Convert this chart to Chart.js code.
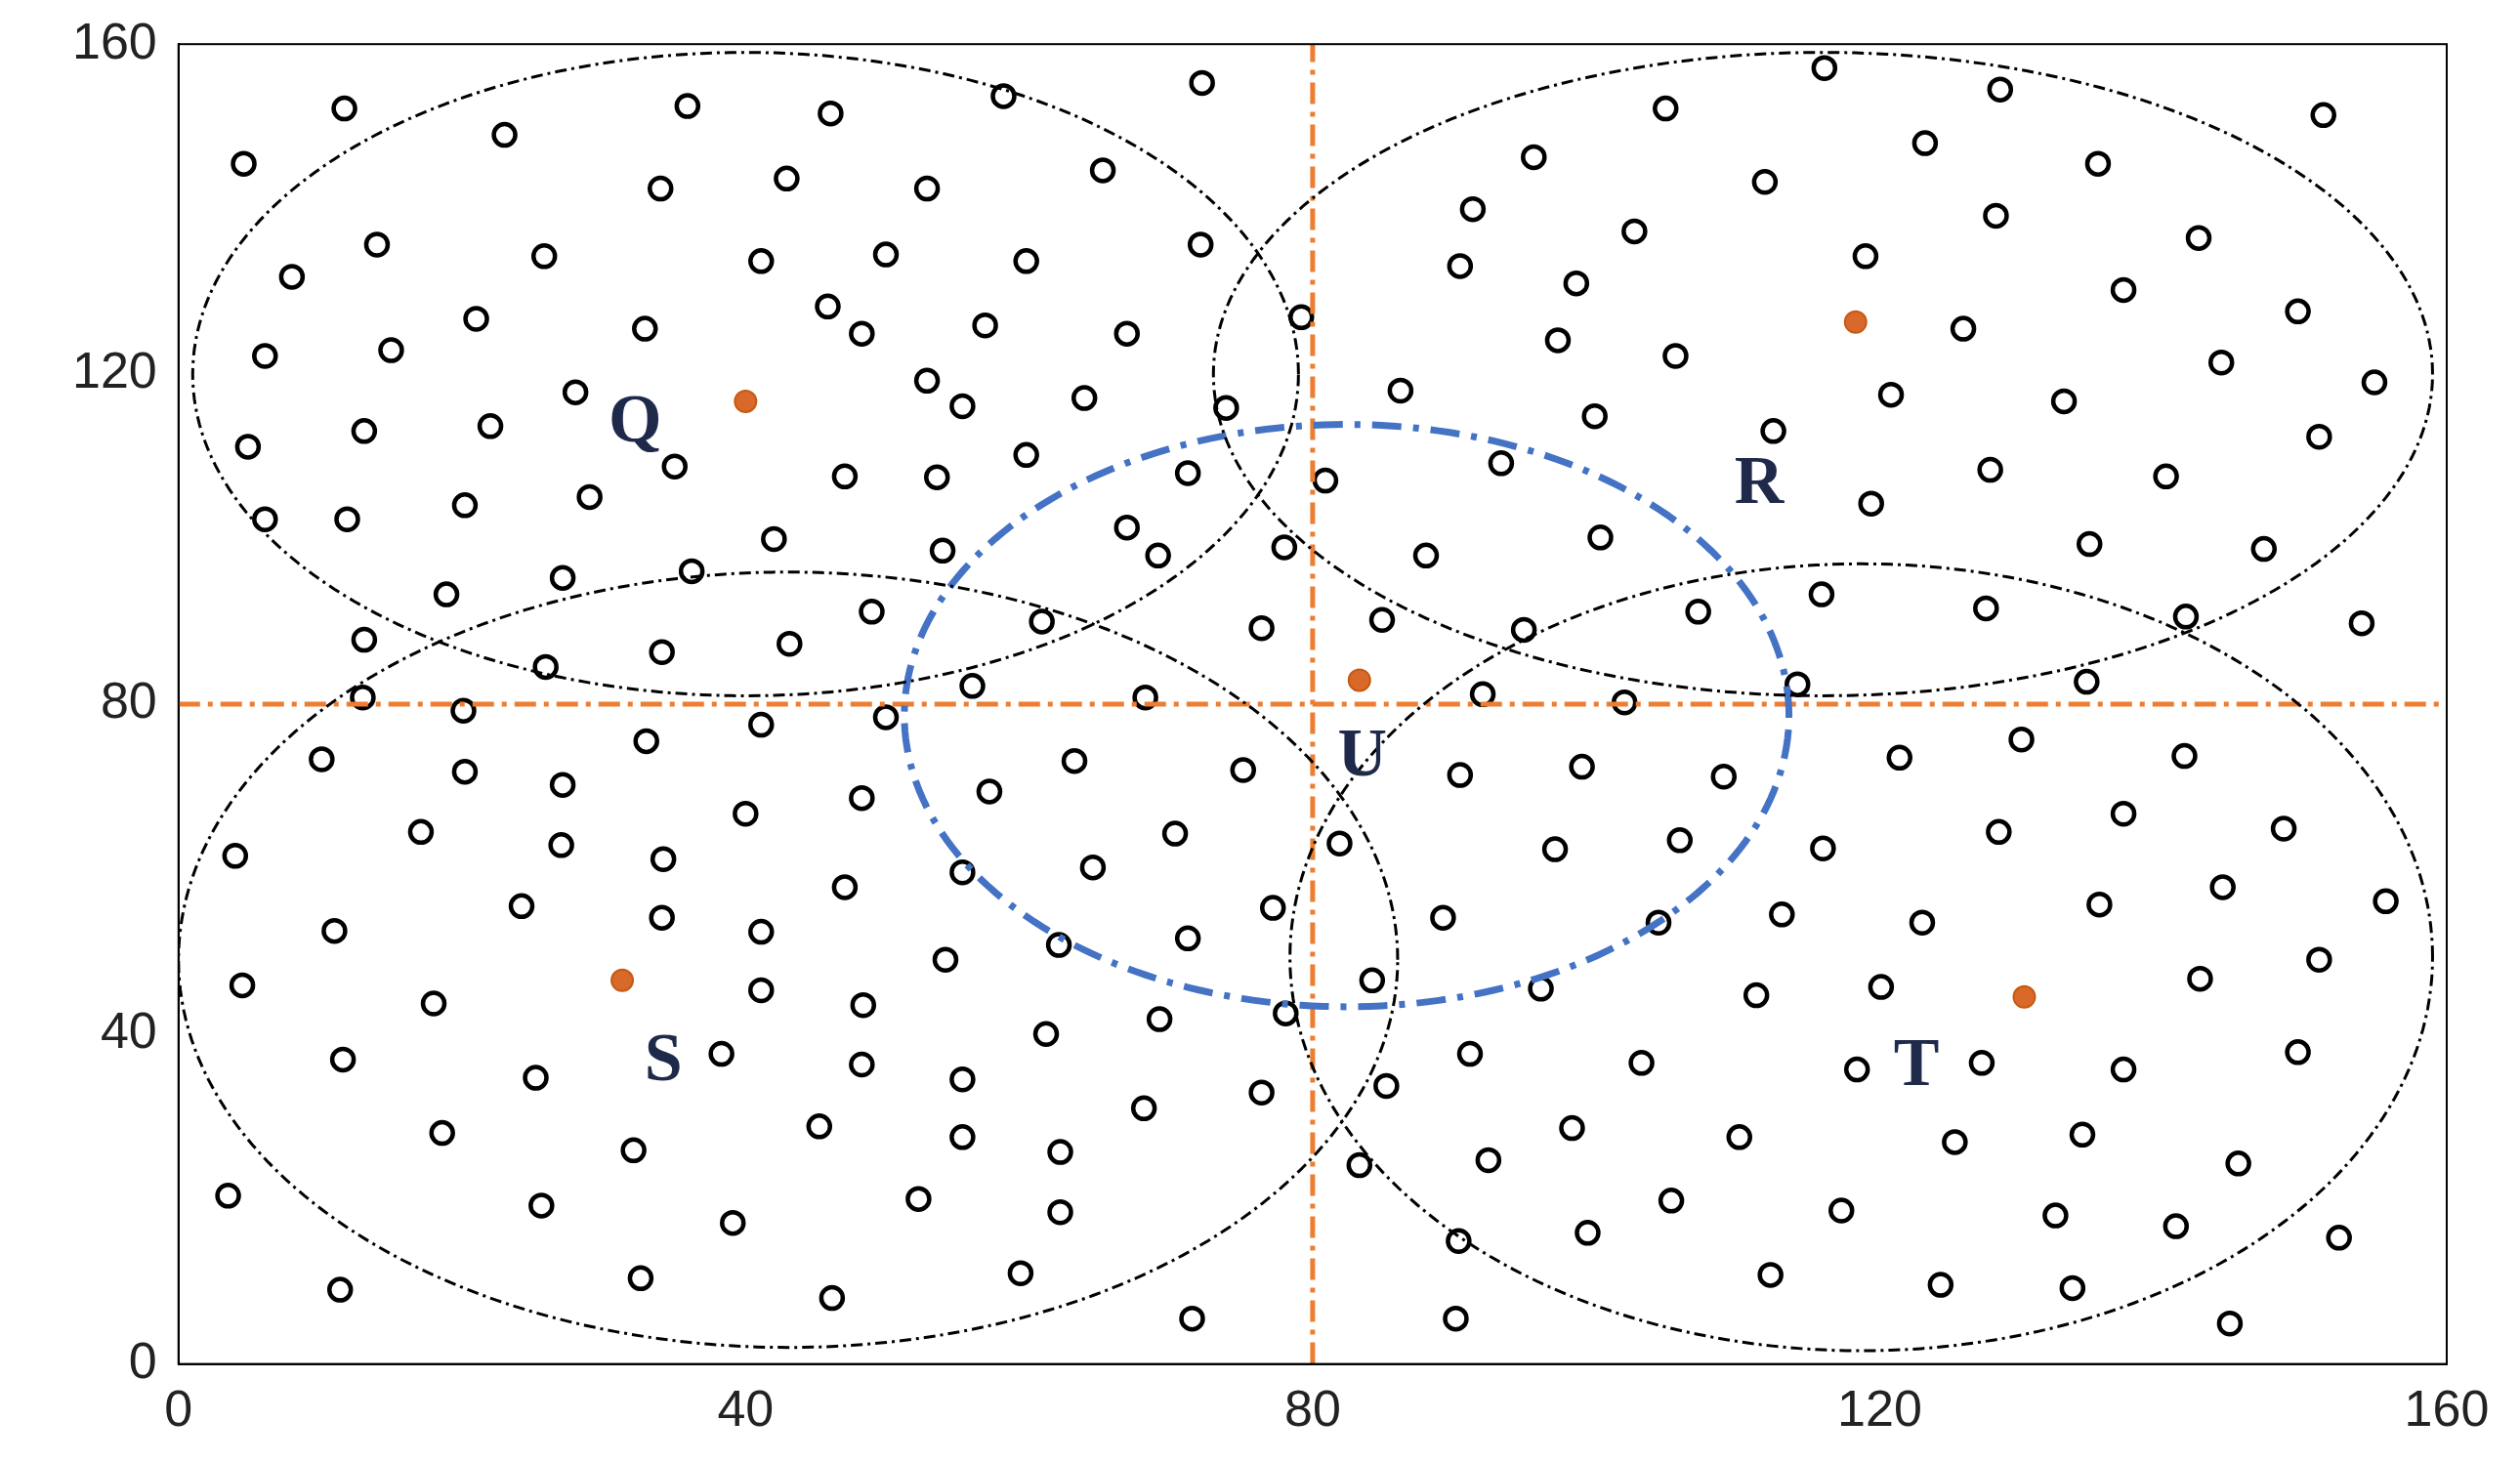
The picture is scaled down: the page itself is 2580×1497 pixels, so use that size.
<!DOCTYPE html>
<html><head><meta charset="utf-8">
<script src="https://cdn.jsdelivr.net/npm/chart.js@4"></script>
<style>html,body{margin:0;background:#fff}</style></head>
<body><canvas id="c" width="2580" height="1497"></canvas>
<script>
const nodesX=[4.6,11.7,23,35.9,46,58.2,72.2,65.2,52.8,42.9,34,8,14,25.8,41.1,49.9,59.8,72.1,79.2,6.1,15,21,32.9,45.8,48.2,56.9,66.9,4.9,13.1,22,28,52.8,55.3,63.9,73.9,6.1,11.9,20.2,29,35,47,53.5,59.8,71.2,42,53.9,66.9,69.1,78,18.9,27.1,36.2,13.1,48.9,43.1,34.1,25.9,13,20.1,10.1,33,41.1,49.9,56,60.9,68.2,76.4,80.9,86.2,93.3,99.9,88,84.9,94.9,100.3,107.2,115.9,114.2,92,102,127.5,134.6,141.6,147.1,154,134.8,127.8,119.4,112.5,120.8,133,140.2,151,154.9,144.1,125.9,105.6,97.3,90.4,91.3,98.6,102.7,95.6,111.9,104.9,116.1,123.2,128.5,135.4,151.3,128.2,119,137.2,142.5,149.5,4,11,4.5,17.1,20.2,27.1,27,24.2,34.2,34.1,40,41.1,41.1,48.2,47,54.1,55.3,57.2,63.2,64.5,70.3,75.1,62.1,71.2,77.2,81.9,18,11.6,18.6,25.2,38.3,48.3,48.2,55.3,61.2,69.2,78.1,84.2,85.2,76.4,68.1,45.2,32.1,55.3,62.2,3.5,25.6,39.1,52.2,62.2,11.4,32.6,46.1,59.4,71.5,83.3,90.1,90.3,92.4,91.1,89.2,96.1,90.4,99,97.1,105.9,104.4,109,116,113.1,111.3,103.2,98.3,99.4,105.3,110.1,112.3,117.3,118.4,120.1,123,121.4,130,141.5,137.2,128.4,135.5,144.2,148.5,155.7,151,142.6,127.2,137.2,149.5,125.3,134.3,145.3,132.4,140.9,152.4,124.3,133.6,144.7];
const nodesY=[145.5,152.2,149,152.5,151.6,153.7,155.3,144.7,142.5,143.7,142.5,131.8,135.7,134.3,133.7,134.5,133.7,135.7,126.9,122.2,122.9,126.7,125.5,128.2,124.9,125.9,124.9,111.2,113.1,113.7,117.8,119.2,116.1,117.1,115.9,102.4,102.4,104.1,105.1,108.8,107.6,107.5,110.2,108,100,98.6,101.4,98,99,93.3,95.3,96.1,87.8,91.2,87.3,86.3,84.5,80.8,79.2,73.3,75.5,77.5,78.4,82.2,90,80.8,89.2,107.1,118,109.2,114.9,98,90.2,89,100.2,91.2,93.3,82.4,81.2,80.2,91.6,82.7,90.6,98.8,89.8,99.4,108.4,104.3,113.1,117.5,116.7,107.6,112.4,119,121.4,125.5,122.2,124.1,133.1,140,131,137.3,146.3,143.3,152.2,157.1,148,154.5,145.5,151.4,139.2,134.3,130.2,136.5,127.6,61.6,52.5,45.9,64.5,71.8,70.2,62.9,55.5,61.2,54.1,66.7,52.4,45.3,68.6,57.8,49,59.6,69.4,73.1,60.2,64.3,72,50.8,51.6,55.3,63.1,43.7,36.9,28,34.7,37.6,43.5,36.3,34.5,40,41.8,42.5,46.5,33.7,32.9,31,28.8,25.9,27.5,25.7,20.4,19.2,17.1,20,18.4,9,10.4,8,11,5.5,24.1,5.5,14.9,24.7,37.6,54.1,45.5,71.4,72.4,62.4,63.5,53.5,71.2,62.5,54.5,44.7,36.5,28.6,15.9,19.8,27.5,10.8,18.6,35.7,45.7,53.5,73.5,75.7,73.7,66.7,64.5,55.7,57.8,64.9,56.1,49,46.7,36.5,35.7,37.8,26.9,27.8,24.3,18,16.7,15.3,9.6,9.2,4.9];
const headX=[40,118.3,83.3,31.3,130.2];
const headY=[116.7,126.3,82.9,46.5,44.5];
const clusterNames=['Q','R','U','S','T'];
const labelX=[32.2,111.5,83.5,34.2,122.6];
const labelY=[114,106.5,73.5,36.5,35.9];
const ellCX=[40,116,43,118.7], ellCY=[120,120,49,49.3], ellRX=[39,43,43,40.3], ellRY=[39,39,47,47.7];
const uC=[82.4,78.6], uR=[31.2,35.3];
const ticks=[0,40,80,120,160];

function ell(cx,cy,rx,ry){const p=[];for(let i=0;i<=240;i++){const a=i/240*2*Math.PI;p.push({x:cx+rx*Math.cos(a),y:cy+ry*Math.sin(a)});}return p;}
const ds=[];
for(let i=0;i<4;i++)ds.push({type:'scatter',data:ell(ellCX[i],ellCY[i],ellRX[i],ellRY[i]),showLine:true,pointRadius:0,borderColor:'#000',borderWidth:3,borderDash:[12,5,3,5],fill:false});
ds.push({type:'scatter',data:ell(uC[0],uC[1],uR[0],uR[1]),showLine:true,pointRadius:0,borderColor:'#4472C4',borderWidth:7,borderDash:[30,12,6,12],fill:false});
ds.push({type:'scatter',data:[{x:80,y:0},{x:80,y:160}],showLine:true,pointRadius:0,borderColor:'#ED7D31',borderWidth:5,borderDash:[22,8,5,8]});
ds.push({type:'scatter',data:[{x:0,y:80},{x:160,y:80}],showLine:true,pointRadius:0,borderColor:'#ED7D31',borderWidth:5,borderDash:[22,8,5,8]});
ds.push({type:'scatter',data:nodesX.map((x,i)=>({x,y:nodesY[i]})),pointRadius:11,pointBorderWidth:4.5,pointBorderColor:'#000',pointBackgroundColor:'rgba(0,0,0,0)'});
ds.push({type:'scatter',data:headX.map((x,i)=>({x,y:headY[i]})),pointRadius:11,pointBorderWidth:2,pointBorderColor:'#C55A11',pointBackgroundColor:'#D9692A'});
const labels={id:'lab',afterDatasetsDraw(c){const g=c.ctx,xs=c.scales.x,ys=c.scales.y;g.save();g.font='bold 70px "Liberation Serif"';g.fillStyle='#1F2A4A';g.textAlign='center';g.textBaseline='middle';clusterNames.forEach((n,i)=>g.fillText(n,xs.getPixelForValue(labelX[i]),ys.getPixelForValue(labelY[i])));
g.strokeStyle='#000';g.lineWidth=2;const a=c.chartArea;g.strokeRect(a.left,a.top,a.right-a.left,a.bottom-a.top);g.restore();}};
new Chart(document.getElementById('c'),{data:{datasets:ds},plugins:[labels],options:{responsive:false,animation:false,layout:{padding:{left:60,right:75,top:40,bottom:10}},plugins:{legend:{display:false},tooltip:{enabled:false}},
scales:{x:{type:'linear',min:0,max:160,afterBuildTicks:s=>{s.ticks=ticks.map(v=>({value:v}));},grid:{display:false},border:{color:'#000',width:2},ticks:{font:{size:52,family:'Liberation Sans'},color:'#222',padding:10}},
y:{type:'linear',min:0,max:160,afterBuildTicks:s=>{s.ticks=ticks.map(v=>({value:v}));},grid:{display:false},border:{color:'#000',width:2},ticks:{font:{size:52,family:'Liberation Sans'},color:'#222',padding:14}}}}});
</script></body></html>
